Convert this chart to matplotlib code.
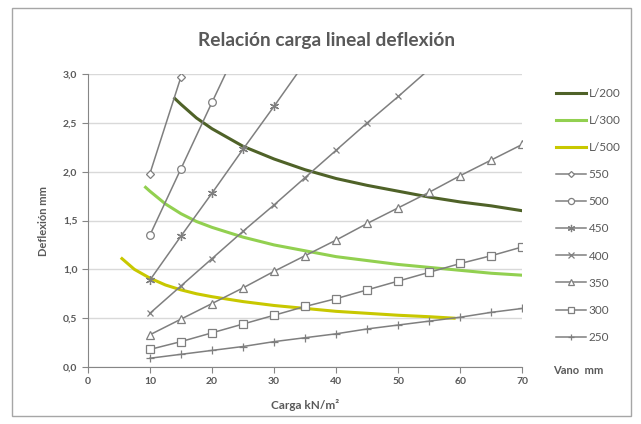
import numpy as np
import matplotlib.pyplot as plt
from matplotlib.patches import Rectangle

plt.rcParams['font.family'] = ['Lato', 'DejaVu Sans']

# curvas limite de deflexion (L/200, L/300, L/500)
q200 = [14, 15, 17.5, 20, 25, 30, 35, 40, 45, 50, 55, 60, 65, 70]
d200 = [2.75, 2.69, 2.55, 2.44, 2.26, 2.13, 2.02, 1.93, 1.86, 1.80, 1.74, 1.69, 1.65, 1.60]

q300 = [9.3, 10, 12.5, 15, 17.5, 20, 25, 30, 35, 40, 45, 50, 55, 60, 65, 70]
d300 = [1.84, 1.80, 1.67, 1.57, 1.49, 1.43, 1.33, 1.25, 1.19, 1.13, 1.09, 1.05, 1.02, 0.99, 0.96, 0.94]

q500 = [5.5, 7.5, 10, 12.5, 15, 17.5, 20, 25, 30, 35, 40, 45, 50, 55, 59]
d500 = [1.11, 1.00, 0.91, 0.84, 0.79, 0.75, 0.72, 0.67, 0.63, 0.60, 0.57, 0.55, 0.53, 0.515, 0.50]

# deflexion por vano (mm)
cargas = [10, 15, 20, 25, 30, 35, 40, 45, 50, 55, 60, 65, 70]
v550 = [1.98, 2.97, 3.96]
v500 = [1.35, 2.03, 2.71, 3.38]
v450 = [0.89, 1.34, 1.78, 2.23, 2.67, 3.12]
v400 = [0.55, 0.83, 1.11, 1.39, 1.66, 1.94, 2.22, 2.50, 2.77, 3.05]
v350 = [0.33, 0.49, 0.65, 0.81, 0.98, 1.14, 1.30, 1.47, 1.63, 1.79, 1.96, 2.12, 2.28]
v300 = [0.18, 0.26, 0.35, 0.44, 0.53, 0.62, 0.70, 0.79, 0.88, 0.97, 1.06, 1.14, 1.23]
v250 = [0.09, 0.13, 0.17, 0.21, 0.26, 0.30, 0.34, 0.39, 0.43, 0.47, 0.51, 0.56, 0.60]

xticks = [0, 10, 20, 30, 40, 50, 60, 70]
yticks = [0.0, 0.5, 1.0, 1.5, 2.0, 2.5, 3.0]

txt = '#595959'
gris = '#7f7f7f'

fig = plt.figure(figsize=(6.41, 4.24), dpi=100)
ax = fig.add_axes([0.137, 0.1344, 0.678, 0.691])

ax.plot(q200, d200, color='#4f6228', lw=2.2, label='L/200')
ax.plot(q300, d300, color='#92d050', lw=2.2, label='L/300')
ax.plot(q500, d500, color='#c8c800', lw=2.2, label='L/500')

vanos = [('550', v550, 'D', 3.8), ('500', v500, 'o', 5.5), ('450', v450, (6, 2, 0), 6.5),
         ('400', v400, 'x', 5), ('350', v350, '^', 5.5), ('300', v300, 's', 5.5),
         ('250', v250, '+', 6)]
for nombre, vals, mk, ms in vanos:
    ax.plot(cargas[:len(vals)], vals, color=gris, lw=1.1, marker=mk, ms=ms,
            mfc='white', mec=gris, mew=0.9, label=nombre)

ax.set_xlim(0, 70)
ax.set_ylim(0, 3.0)
ax.set_xticks(xticks)
ax.set_yticks(yticks)
ax.set_yticklabels([f'{v:.1f}'.replace('.', ',') for v in yticks])
ax.grid(axis='y', color='#d9d9d9', lw=1)
ax.set_axisbelow(True)
for s in ['top', 'right']:
    ax.spines[s].set_visible(False)
for s in ['left', 'bottom']:
    ax.spines[s].set_color('#868686')
ax.tick_params(colors='#868686', labelcolor=txt, labelsize=7.5, length=4)
for lab in ax.get_xticklabels() + ax.get_yticklabels():
    lab.set_fontweight('bold')

ax.set_xlabel('Carga kN/m²', color=txt, fontsize=8.5, fontweight='bold', labelpad=9)
ax.set_ylabel('Deflexión mm', color=txt, fontsize=8, fontweight='bold', labelpad=10)
fig.text(0.51, 0.905, 'Relación carga lineal deflexión', ha='center', va='center',
         color=txt, fontsize=13.8, fontweight='bold')

leg = ax.legend(loc='upper left', bbox_to_anchor=(0.867, 0.792), bbox_transform=fig.transFigure,
                frameon=False, fontsize=8.5, handlelength=2.55, labelspacing=1.36,
                handletextpad=0.25, borderpad=0, borderaxespad=0, markerscale=0.8)
for t in leg.get_texts():
    t.set_color(txt)
fig.text(0.863, 0.125, 'Vano  mm', color=txt, fontsize=8, fontweight='bold', va='center')

fig.patches.append(Rectangle((0.019, 0.019), 0.965, 0.962, transform=fig.transFigure,
                             fill=False, ec='#a6a6a6', lw=1))

fig.savefig('out.png', dpi=100)
